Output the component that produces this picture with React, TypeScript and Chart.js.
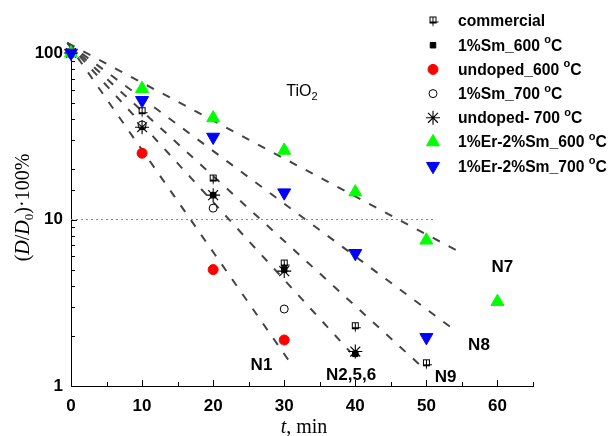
import React, { useEffect, useRef } from 'react';
import { Chart, registerables } from 'chart.js';
import { drawPoint } from 'chart.js/helpers';

Chart.register(...registerables);

// ---- data ----
const times = [0, 10, 20, 30, 40, 50, 60];
const commercial = [100, 44.4, 17.5, 5.4, 2.27, 1.36, null];
const sm600 = [100, 36, 14, 5.0, 1.56, null, null];
const undoped600 = [100, 25, 5.0, 1.89, null, null, null];
const sm700 = [100, 37, 11.7, 2.9, null, null, null];
const undoped700 = [100, 35.8, 14.0, 4.9, 1.61, null, null];
const er600 = [100, 61, 40.7, 26, 14.6, 7.5, 3.21];
const er700 = [100, 52, 31.3, 14.5, 6.27, 1.96, null];

const seriesNames = [
  'commercial',
  '1%Sm_600 °C',
  'undoped_600 °C',
  '1%Sm_700 °C',
  'undoped- 700 °C',
  '1%Er-2%Sm_600 °C',
  '1%Er-2%Sm_700 °C',
];

// fitted decay lines (start / end)
const fitNames = ['N1', 'N2,5,6', 'N9', 'N8', 'N7'];
const fitStartT = -0.5;
const fitStartV = 115;
const fitEndT = [30.6, 39.3, 49.4, 53.4, 55.2];
const fitEndV = [1.43, 1.6, 1.3, 2.26, 6.2];
const fitLabelT = [26.8, 39.4, 52.7, 57.4, 60.7];
const fitLabelV = [1.34, 1.16, 1.13, 1.76, 5.18];

const refLineT = [0, 51];
const refLineV = [10, 10];

const annotT = 30.3;
const annotV = 59;

const xTicksMajor = [0, 10, 20, 30, 40, 50, 60];
const yTicksMajor = [1, 10, 100];

const SANS = "'Liberation Sans', Arial, sans-serif";
const SERIF = "'Liberation Serif', 'Times New Roman', serif";

function makeCommercialMarker() {
  const c = document.createElement('canvas');
  c.width = 13;
  c.height = 13;
  const g = c.getContext('2d')!;
  g.strokeStyle = '#000';
  g.lineWidth = 1;
  g.strokeRect(3.5, 2.5, 6, 6);
  g.beginPath();
  g.moveTo(6.5, 2.5);
  g.lineTo(6.5, 11.5);
  g.moveTo(3.5, 7.5);
  g.lineTo(12, 7.5);
  g.stroke();
  return c;
}

type Run = { text: string; font: string; dy?: number };

function drawRuns(ctx: CanvasRenderingContext2D, runs: Run[], x: number, y: number, align: 'left' | 'center') {
  let total = 0;
  for (const r of runs) {
    ctx.font = r.font;
    total += ctx.measureText(r.text).width;
  }
  let cx = align === 'center' ? x - total / 2 : x;
  ctx.textAlign = 'left';
  for (const r of runs) {
    ctx.font = r.font;
    ctx.fillText(r.text, cx, y + (r.dy || 0));
    cx += ctx.measureText(r.text).width;
  }
}

export default function App() {
  const ref = useRef<HTMLCanvasElement>(null);

  useEffect(() => {
    document.body.style.margin = '0';
    const canvas = ref.current!;
    const commercialMarker = makeCommercialMarker();

    const pts = (ys: (number | null)[]) =>
      times.map((t, i) => (ys[i] == null ? null : { x: t, y: ys[i] as number })).filter(Boolean) as { x: number; y: number }[];

    const pointStyles: any[] = [
      { pointStyle: commercialMarker, radius: 6, bg: '#000', border: '#000', bw: 1, rotation: 0 },
      { pointStyle: 'rect', radius: 3.9, bg: '#000', border: '#000', bw: 1, rotation: 0 },
      { pointStyle: 'circle', radius: 5, bg: '#ff0000', border: '#ff0000', bw: 1, rotation: 0 },
      { pointStyle: 'circle', radius: 4, bg: '#ffffff', border: '#000', bw: 1, rotation: 0 },
      { pointStyle: 'star', radius: 7, bg: '#000', border: '#000', bw: 1.1, rotation: 0 },
      { pointStyle: 'triangle', radius: 7.5, bg: '#00ff00', border: '#00ff00', bw: 1, rotation: 0 },
      { pointStyle: 'triangle', radius: 7.5, bg: '#0000ff', border: '#0000ff', bw: 1, rotation: 180 },
    ];
    const seriesData = [commercial, sm600, undoped600, sm700, undoped700, er600, er700];

    const pointDatasets = seriesData.map((ys, i) => ({
      label: seriesNames[i],
      data: pts(ys),
      showLine: false,
      pointStyle: pointStyles[i].pointStyle,
      pointRadius: pointStyles[i].radius,
      pointRotation: pointStyles[i].rotation,
      pointBackgroundColor: pointStyles[i].bg,
      pointBorderColor: pointStyles[i].border,
      pointBorderWidth: pointStyles[i].bw,
      clip: false as any,
      order: seriesData.length - i,
    }));

    const fitDatasets = fitNames.map((n, i) => ({
      label: n,
      data: [
        { x: fitStartT, y: fitStartV },
        { x: fitEndT[i], y: fitEndV[i] },
      ],
      showLine: true,
      borderColor: '#444444',
      borderWidth: 2,
      borderDash: [8, 10],
      pointRadius: 0,
      clip: false as any,
      order: 20,
    }));

    const refDataset = {
      label: 'ref',
      data: refLineT.map((t, i) => ({ x: t, y: refLineV[i] })),
      showLine: true,
      borderColor: '#888888',
      borderWidth: 1,
      borderDash: [2, 3],
      pointRadius: 0,
      order: 21,
    };

    const decorPlugin = {
      id: 'decor',
      afterDraw(chart: any) {
        const { ctx, chartArea, scales } = chart;
        const xs = scales.x;
        const ys = scales.y;
        ctx.save();
        // inward ticks
        ctx.strokeStyle = '#000';
        ctx.lineWidth = 1;
        ys.ticks.forEach((t: any) => {
          const py = Math.round(ys.getPixelForValue(t.value)) + 0.5;
          const len = yTicksMajor.includes(t.value) ? 6 : 4;
          ctx.beginPath();
          ctx.moveTo(chartArea.left, py);
          ctx.lineTo(chartArea.left + len, py);
          ctx.stroke();
        });
        xs.ticks.forEach((t: any) => {
          const px = Math.round(xs.getPixelForValue(t.value)) + 0.5;
          const len = xTicksMajor.includes(t.value) ? 6 : 4;
          ctx.beginPath();
          ctx.moveTo(px, chartArea.bottom);
          ctx.lineTo(px, chartArea.bottom - len);
          ctx.stroke();
        });

        ctx.fillStyle = '#000';
        ctx.textBaseline = 'middle';
        // fit labels
        fitNames.forEach((n, i) => {
          ctx.font = `bold 17px ${SANS}`;
          ctx.textAlign = 'center';
          ctx.fillText(n, xs.getPixelForValue(fitLabelT[i]), ys.getPixelForValue(fitLabelV[i]));
        });
        // TiO2
        drawRuns(
          ctx,
          [
            { text: 'TiO', font: `16px ${SANS}` },
            { text: '2', font: `11px ${SANS}`, dy: 6 },
          ],
          xs.getPixelForValue(annotT),
          ys.getPixelForValue(annotV),
          'left'
        );

        // axis titles
        ctx.textBaseline = 'alphabetic';
        drawRuns(
          ctx,
          [
            { text: 't', font: `italic 20px ${SERIF}` },
            { text: ', min', font: `20px ${SERIF}` },
          ],
          (chartArea.left + chartArea.right) / 2 + 2,
          433,
          'center'
        );
        ctx.save();
        ctx.translate(29, (chartArea.top + chartArea.bottom) / 2 - 12);
        ctx.rotate(-Math.PI / 2);
        drawRuns(
          ctx,
          [
            { text: '(', font: `20px ${SERIF}` },
            { text: 'D', font: `italic 20px ${SERIF}` },
            { text: '/', font: `20px ${SERIF}` },
            { text: 'D', font: `italic 20px ${SERIF}` },
            { text: '0', font: `13px ${SERIF}`, dy: 4 },
            { text: ')·100%', font: `20px ${SERIF}` },
          ],
          0,
          0,
          'center'
        );
        ctx.restore();

        // legend
        const lx = 433;
        const tx = 458;
        seriesNames.forEach((name, i) => {
          const yy = 21 + 24.2 * i;
          const st = pointStyles[i];
          ctx.fillStyle = st.bg;
          ctx.strokeStyle = st.border;
          ctx.lineWidth = st.bw;
          drawPoint(ctx, { pointStyle: st.pointStyle, radius: st.radius, rotation: st.rotation, borderWidth: st.bw } as any, lx, yy);
          ctx.fillStyle = '#000';
          ctx.textBaseline = 'middle';
          const parts = name.split('°');
          const runs: Run[] = [{ text: parts[0], font: `bold 15.7px ${SANS}` }];
          if (parts.length > 1) {
            runs.push({ text: 'o', font: `bold 11px ${SANS}`, dy: -6 });
            runs.push({ text: parts[1], font: `bold 15.7px ${SANS}` });
          }
          drawRuns(ctx, runs, tx, yy + 1, 'left');
        });
        ctx.restore();
      },
    };

    const chart = new Chart(canvas, {
      type: 'line',
      data: { datasets: [...pointDatasets, ...fitDatasets, refDataset] as any },
      options: {
        animation: false,
        responsive: false,
        devicePixelRatio: 1,
        layout: { padding: { top: 53, right: 76, left: 0, bottom: 0 } },
        plugins: { legend: { display: false }, tooltip: { enabled: false } },
        scales: {
          x: {
            type: 'linear',
            min: 0,
            max: 65,
            grid: { display: false, drawTicks: false },
            border: { display: true, color: '#000', width: 1 },
            ticks: {
              stepSize: 5,
              autoSkip: false,
              maxRotation: 0,
              padding: 10,
              color: '#000',
              font: { family: SANS, size: 17, weight: 'bold' },
              callback: (v: any) => (xTicksMajor.includes(Number(v)) ? String(v) : ''),
            },
            afterFit: (s: any) => {
              s.height = 50;
            },
          },
          y: {
            type: 'logarithmic',
            min: 1,
            max: 100,
            grid: { display: false, drawTicks: false },
            border: { display: true, color: '#000', width: 1 },
            ticks: {
              autoSkip: false,
              padding: 8,
              color: '#000',
              font: { family: SANS, size: 17, weight: 'bold' },
              callback: (v: any) => (yTicksMajor.includes(Number(v)) ? String(v) : ''),
            },
            afterFit: (s: any) => {
              s.width = 71;
            },
          },
        },
      },
      plugins: [decorPlugin],
    } as any);

    return () => chart.destroy();
  }, []);

  return (
    <div style={{ width: 609, height: 436 }}>
      <canvas ref={ref} width={609} height={436} style={{ display: 'block', width: 609, height: 436 }} />
    </div>
  );
}
